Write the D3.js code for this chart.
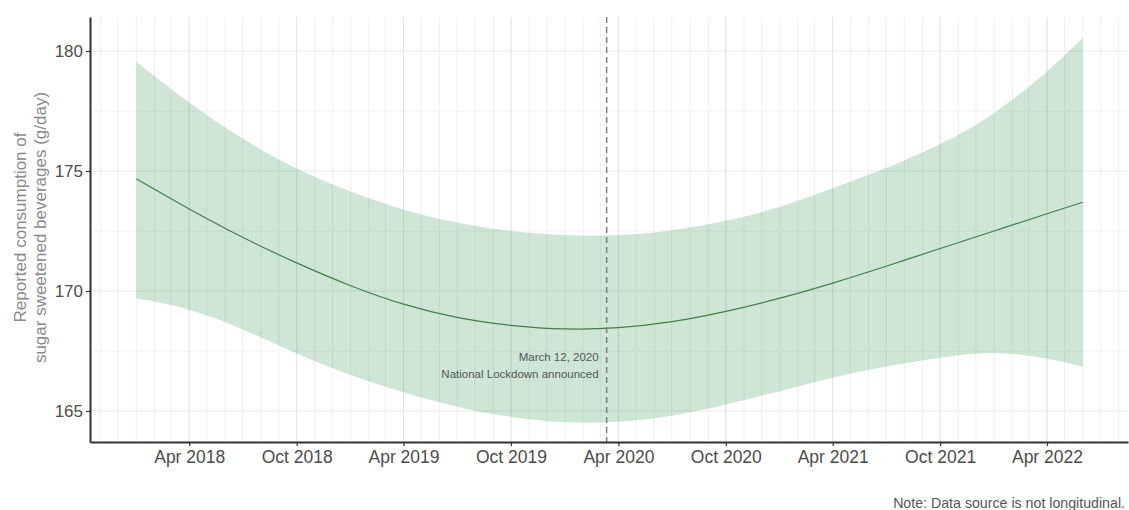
<!DOCTYPE html>
<html>
<head>
<meta charset="utf-8">
<script src="https://cdn.jsdelivr.net/npm/d3@7"></script>
<style>
  html, body { margin: 0; padding: 0; background: #fff; }
  svg { display: block; font-family: "Liberation Sans", Arial, sans-serif; }
</style>
</head>
<body>
<svg id="chart" width="1129" height="510"></svg>
<script>
// ---- data ----
const dates = ["2018-01-01","2018-04-01","2018-07-01","2018-10-01",
               "2019-01-01","2019-04-01","2019-07-01","2019-10-01",
               "2020-01-01","2020-04-01","2020-07-01","2020-10-01",
               "2021-01-01","2021-04-01","2021-07-01","2021-10-01",
               "2022-01-01","2022-04-01","2022-06-01"];
const fitValues = [174.67,173.42,172.24,171.17,
                   170.22,169.45,168.90,168.57,
                   168.42,168.47,168.72,169.15,
                   169.70,170.33,171.03,171.77,
                   172.50,173.22,173.70];
const upperValues = [179.55,177.85,176.35,175.10,
                     174.15,173.40,172.85,172.50,
                     172.33,172.33,172.53,172.93,
                     173.51,174.28,175.12,176.12,
                     177.42,179.15,180.55];
const lowerValues = [169.70,169.22,168.40,167.40,
                     166.50,165.78,165.18,164.75,
                     164.53,164.55,164.80,165.27,
                     165.82,166.38,166.85,167.22,
                     167.42,167.18,166.85];
const yTicks = [165, 170, 175, 180];
const yMinorTicks = [167.5, 172.5, 177.5];
const xTickDates = ["2018-04-01","2018-10-01","2019-04-01","2019-10-01",
                    "2020-04-01","2020-10-01","2021-04-01","2021-10-01","2022-04-01"];
const lockdownDate = "2020-03-12";
const annotationLines = ["March 12, 2020", "National Lockdown announced"];
const yTitleLines = ["Reported consumption of", "sugar sweetened beverages (g/day)"];
const noteText = "Note: Data source is not longitudinal.";

(function () {
// ---- setup ----
const parse = d3.timeParse("%Y-%m-%d");
const rows = dates.map((d, i) => ({ date: parse(d), fit: fitValues[i], hi: upperValues[i], lo: lowerValues[i] }));

const pL = 90, pR = 1128, pT = 17, pB = 442;
const svg = d3.select("#chart");

const x = d3.scaleTime()
  .domain([parse("2017-10-14"), parse("2022-08-17")])
  .range([pL, pR]);
const y = d3.scaleLinear()
  .domain([163.708, 181.417])
  .range([pB, pT]);

// ---- grid ----
const grid = svg.append("g");
const monthly = d3.timeMonth.range(parse("2017-11-01"), parse("2022-09-01"));
grid.selectAll("line.vminor").data(monthly).enter().append("line")
  .attr("x1", d => x(d)).attr("x2", d => x(d))
  .attr("y1", pT).attr("y2", pB)
  .attr("stroke", "#eeeeee").attr("stroke-width", 1);
grid.selectAll("line.hminor").data(yMinorTicks).enter().append("line")
  .attr("x1", pL).attr("x2", pR)
  .attr("y1", d => y(d)).attr("y2", d => y(d))
  .attr("stroke", "#f2f2f2").attr("stroke-width", 1);
grid.selectAll("line.vmajor").data(xTickDates.map(parse)).enter().append("line")
  .attr("x1", d => x(d)).attr("x2", d => x(d))
  .attr("y1", pT).attr("y2", pB)
  .attr("stroke", "#e4e4e4").attr("stroke-width", 1);
grid.selectAll("line.hmajor").data(yTicks).enter().append("line")
  .attr("x1", pL).attr("x2", pR)
  .attr("y1", d => y(d)).attr("y2", d => y(d))
  .attr("stroke", "#e8e8e8").attr("stroke-width", 1);

// ---- ribbon & fit ----
const area = d3.area()
  .x(d => x(d.date)).y0(d => y(d.lo)).y1(d => y(d.hi))
  .curve(d3.curveNatural);
svg.append("path").datum(rows)
  .attr("d", area)
  .attr("fill", "#238b45").attr("fill-opacity", 0.22);

const line = d3.line()
  .x(d => x(d.date)).y(d => y(d.fit))
  .curve(d3.curveNatural);
svg.append("path").datum(rows)
  .attr("d", line)
  .attr("fill", "none").attr("stroke", "#3f7f47").attr("stroke-width", 1.2);

// ---- lockdown line & annotation ----
const lx = x(parse(lockdownDate));
svg.append("line")
  .attr("x1", lx).attr("x2", lx).attr("y1", pT).attr("y2", pB)
  .attr("stroke", "#808080").attr("stroke-width", 1.5)
  .attr("stroke-dasharray", "6,4");
svg.append("g").selectAll("text").data(annotationLines).enter().append("text")
  .attr("x", lx - 8)
  .attr("y", (d, i) => 361 + i * 17)
  .attr("text-anchor", "end")
  .attr("font-size", 11.5)
  .attr("fill", "#555")
  .text(d => d);

// ---- axes ----
const xAxis = d3.axisBottom(x)
  .tickValues(xTickDates.map(parse))
  .tickFormat(d3.timeFormat("%b %Y"))
  .tickSizeInner(4).tickSizeOuter(0).tickPadding(5);
const gx = svg.append("g").attr("transform", `translate(0,${pB})`).call(xAxis);
gx.select(".domain").attr("stroke", "#333").attr("stroke-width", 2);
gx.selectAll(".tick line").attr("stroke", "#333").attr("stroke-width", 1.2);
gx.selectAll(".tick text").attr("font-size", 17.5).attr("fill", "#4d4d4d")
  .attr("font-family", "Liberation Sans, Arial, sans-serif");

const yAxis = d3.axisLeft(y)
  .tickValues(yTicks)
  .tickSizeInner(4).tickSizeOuter(0).tickPadding(3);
const gy = svg.append("g").attr("transform", `translate(${pL},0)`).call(yAxis);
gy.select(".domain").attr("stroke", "#333").attr("stroke-width", 2);
gy.selectAll(".tick line").attr("stroke", "#333").attr("stroke-width", 1.2);
gy.selectAll(".tick text").attr("font-size", 17).attr("fill", "#4d4d4d")
  .attr("font-family", "Liberation Sans, Arial, sans-serif");

// ---- y title ----
const yt = svg.append("text")
  .attr("transform", `translate(26,${(pT + pB) / 2 - 2}) rotate(-90)`)
  .attr("text-anchor", "middle")
  .attr("font-size", 17)
  .attr("fill", "#8a8a8a");
yt.selectAll("tspan").data(yTitleLines).enter().append("tspan")
  .attr("x", 0).attr("dy", (d, i) => i === 0 ? 0 : 19.5)
  .text(d => d);

// ---- note ----
svg.append("text")
  .attr("x", 1125).attr("y", 508)
  .attr("text-anchor", "end")
  .attr("font-size", 14.2)
  .attr("fill", "#555")
  .text(noteText);
})();
</script>
</body>
</html>
